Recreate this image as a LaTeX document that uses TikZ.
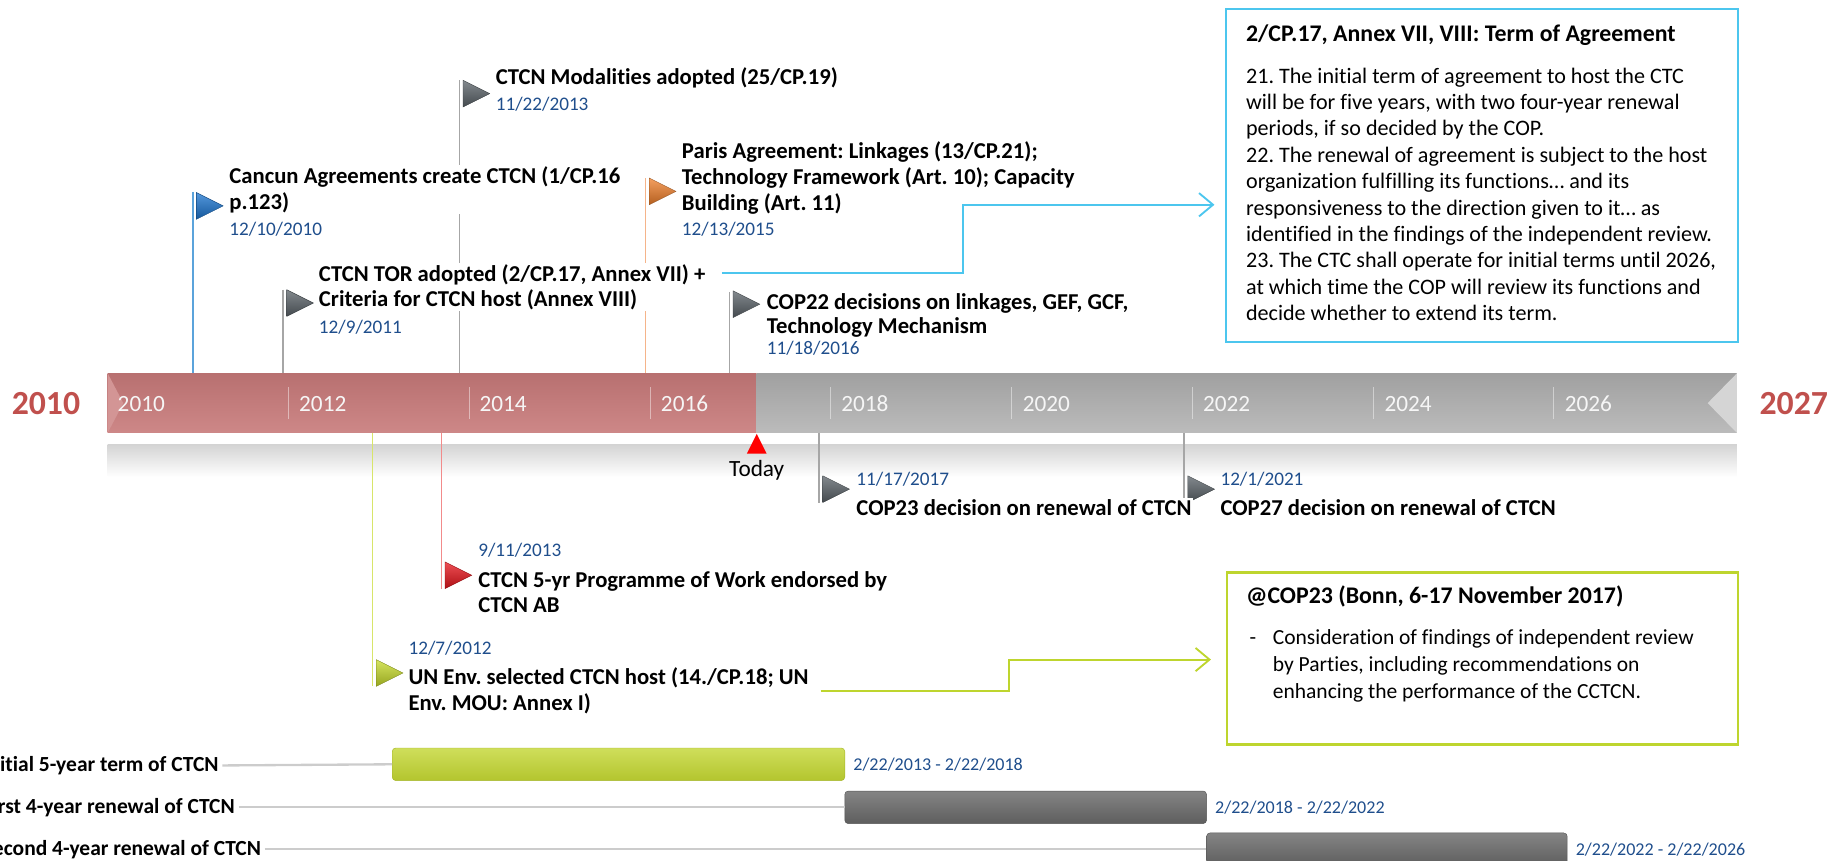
\documentclass[tikz,border=0pt]{standalone}
\usepackage{fontspec}
\setmainfont[Ligatures=NoCommon]{Carlito}
\usetikzlibrary{shapes.geometric, arrows.meta, positioning}

\definecolor{datecolor}{HTML}{1F4E8C}
\definecolor{bigyearcolor}{HTML}{C0504D}
\definecolor{redbar}{HTML}{C87A7A}
\definecolor{graybar}{HTML}{B2B2B2}
\definecolor{cancuncolor}{HTML}{1B75D0}
\definecolor{cancunline}{HTML}{5BA3DB}
\definecolor{slatecolor}{HTML}{5A6268}
\definecolor{slateline}{HTML}{A6A6A6}
\definecolor{pariscolor}{HTML}{F07F2A}
\definecolor{parisline}{HTML}{F5B48A}
\definecolor{powcolor}{HTML}{E8141B}
\definecolor{powline}{HTML}{F28B8B}
\definecolor{unepcolor}{HTML}{C8DC2A}
\definecolor{unepline}{HTML}{D8E56A}
\definecolor{boxblue}{HTML}{4CC6EE}
\definecolor{boxgreen}{HTML}{BED52E}
\definecolor{termgreen}{HTML}{C3D632}
\definecolor{termdark}{HTML}{666666}

\begin{document}
\frenchspacing
\begin{tikzpicture}[x=1pt, y=-1pt,
    eventtext/.style={anchor=north west, align=left, inner sep=1pt, fill=white,
        font=\fontsize{19.5}{22}\selectfont\bfseries},
    eventdate/.style={anchor=north west, inner sep=1pt, text=datecolor,
        font=\fontsize{16.5}{20}\selectfont},
    evflag/.style={shape=isosceles triangle, isosceles triangle stretches,
        minimum width=23pt, minimum height=23pt, inner sep=0pt, anchor=west,
        draw=#1!60!black, line width=0.3pt, top color=#1!75!white, bottom color=#1!75!black},
    flagline/.style={line width=1.3pt, draw=#1},
    yearlabel/.style={anchor=west, inner sep=0pt, text=white!93!gray,
        font=\fontsize{20}{24}\selectfont},
    bigyear/.style={inner sep=0pt, text=bigyearcolor, font=\fontsize{29}{34}\selectfont\bfseries},
    infobox/.style={draw=#1, line width=2pt, anchor=north west, inner sep=0pt},
    boxtitle/.style={anchor=north west, inner sep=0pt, font=\fontsize{20.5}{24}\selectfont\bfseries},
    boxbody/.style={anchor=north west, align=left, inner sep=0pt},
    linkarrow/.style={line width=1.6pt, draw=#1, -{Straight Barb[length=12pt, width=20pt]}},
    rowlabel/.style={anchor=west, inner sep=0pt, font=\fontsize{18.5}{22}\selectfont\bfseries},
    rowline/.style={line width=2pt, draw=black!20},
    termbar/.style={rectangle, rounded corners=3pt, minimum height=28pt, inner sep=0pt,
        anchor=west, draw=#1!85!black, top color=#1!80!white, bottom color=#1!92!black},
    termdate/.style={inner sep=0pt, text=datecolor, font=\fontsize{15.5}{18}\selectfont}
]

\useasboundingbox (0,0) rectangle (1574,740);
\clip (0,0) rectangle (1574,740);

% timeline
\shade[top color=redbar!92!black, bottom color=redbar!90!white] (92.6,321) rectangle (650.5,372);
\shade[top color=graybar!90!black, bottom color=graybar!88!white] (650.5,321) rectangle (1493,372);
\fill[redbar!80!white] (92.6,321) -- (106,346.5) -- (92.6,372) -- cycle;
\fill[graybar!55!white] (1493,321) -- (1468,346.5) -- (1493,372) -- cycle;
\shade[top color=black!17, bottom color=white] (92.6,382) rectangle (1493,410);

\foreach \x in {248,403.4,558.8,714.2,869.6,1025,1180.4,1335.8}
    \draw[white, opacity=0.45, line width=0.8pt] (\x,333) -- (\x,360);
\foreach \x/\yr in {101/2010,257/2012,412/2014,568/2016,723/2018,879/2020,1034/2022,1190/2024,1345/2026}
    \node[yearlabel] at (\x,347) {\yr};

\node[bigyear] (startyear) at (39.5,347) {2010};
\node[bigyear] (endyear) at (1542,347) {2027};

\fill[red] (650.5,373) -- (642,390) -- (659,390) -- cycle;
\node[inner sep=0pt, font=\fontsize{20}{24}\selectfont] (today) at (650.5,404) {Today};

% flag lines
\draw[flagline=cancunline] (165.7,165) -- (165.7,321);
\draw[flagline=slateline] (243.3,249) -- (243.3,321);
\draw[flagline=slateline] (394.9,69) -- (394.9,321);
\draw[flagline=parisline] (554.9,153) -- (554.9,321);
\draw[flagline=slateline] (627,251) -- (627,321);
\draw[flagline=slateline] (704.1,372) -- (704.1,432);
\draw[flagline=slateline] (1017.9,372) -- (1017.9,432);
\draw[flagline=powline] (379.4,372) -- (379.4,506);
\draw[flagline=unepline] (320.3,372) -- (320.3,590);

% flags
\node[evflag=cancuncolor] (fcancun) at (168.7,177) {};
\node[evflag=slatecolor] (ftor) at (246.3,260.5) {};
\node[evflag=slatecolor] (fmodal) at (397.9,80.5) {};
\node[evflag=pariscolor] (fparis) at (557.9,164.5) {};
\node[evflag=slatecolor] (fcop22) at (630,261.5) {};
\node[evflag=slatecolor] (fcop23) at (707.1,420.5) {};
\node[evflag=slatecolor] (fcop27) at (1020.9,420.5) {};
\node[evflag=powcolor] (fpow) at (382.4,494.5) {};
\node[evflag=unepcolor] (funep) at (323.3,578.5) {};

% events above the bar
\node[eventtext] (modal) at (425,57) {CTCN Modalities adopted (25/CP.19)};
\node[eventdate] (modaldate) at (425,82) {11/22/2013};

\node[eventtext] (cancun) at (196,142) {Cancun Agreements create CTCN (1/CP.16\\p.123)};
\node[eventdate] (cancundate) at (196,190) {12/10/2010};

\node[eventtext] (paris) at (585,121) {Paris Agreement: Linkages (13/CP.21);\\Technology Framework (Art. 10); Capacity\\Building (Art. 11)};
\node[eventdate] (parisdate) at (585,190) {12/13/2015};

\node[eventtext] (tor) at (273,226) {CTCN TOR adopted (2/CP.17, Annex VII) +\\Criteria for CTCN host (Annex VIII)};
\node[eventdate] (tordate) at (273,274) {12/9/2011};

\node[eventtext, font=\fontsize{19.5}{20.5}\selectfont\bfseries] (cop22) at (658,251) {COP22 decisions on linkages, GEF, GCF,\\Technology Mechanism};
\node[eventdate] (cop22date) at (658,292) {11/18/2016};

% events below the bar
\node[eventdate] (cop23date) at (735,405) {11/17/2017};
\node[eventtext] (cop23) at (735,428) {COP23 decision on renewal of CTCN};

\node[eventdate] (cop27date) at (1048,405) {12/1/2021};
\node[eventtext] (cop27) at (1048,428) {COP27 decision on renewal of CTCN};

\node[eventdate] (powdate) at (410,466) {9/11/2013};
\node[eventtext] (pow) at (410,490) {CTCN 5-yr Programme of Work endorsed by\\CTCN AB};

\node[eventdate] (unepdate) at (350,550) {12/7/2012};
\node[eventtext] (unep) at (350,573) {UN Env. selected CTCN host (14./CP.18; UN\\Env. MOU: Annex I)};

% boxes
\node[infobox=boxblue, minimum width=440pt, minimum height=286pt] (termbox) at (1053,7) {};
\node[boxtitle] (termtitle) at ([shift={(18,14)}]termbox.north west) {2/CP.17, Annex VII, VIII: Term of Agreement};
\node[boxbody, font=\fontsize{19}{22.7}\selectfont] (termtext) at ([shift={(18,51)}]termbox.north west)
    {21. The initial term of agreement to host the CTC\\
     will be for five years, with two four-year renewal\\
     periods, if so decided by the COP.\\
     22. The renewal of agreement is subject to the host\\
     organization fulfilling its functions… and its\\
     responsiveness to the direction given to it… as\\
     identified in the findings of the independent review.\\
     23. The CTC shall operate for initial terms until 2026,\\
     at which time the COP will review its functions and\\
     decide whether to extend its term.};

\node[infobox=boxgreen, minimum width=439pt, minimum height=148pt] (copbox) at (1054,491) {};
\node[boxtitle] (coptitle) at ([shift={(17,12)}]copbox.north west) {@COP23 (Bonn, 6-17 November 2017)};
\node[boxbody, font=\fontsize{18.5}{23}\selectfont] (copdash) at ([shift={(20,50)}]copbox.north west) {\vphantom{d}-};
\node[boxbody, font=\fontsize{18.5}{23}\selectfont] (coptext) at ([shift={(40,50)}]copbox.north west)
    {Consideration of findings of independent review\\
     by Parties, including recommendations on\\
     enhancing the performance of the CCTCN.};

% links
\draw[linkarrow=boxblue, shorten >=9pt] ([shift={(13,9)}]tor.north east) -| (828,176) -- (termbox.west |- 0,176);
\draw[linkarrow=boxgreen, shorten >=13pt] ([xshift=9pt]unep.east) -| (867,567) -- (copbox.west |- 0,567);

% terms
\node[rowlabel] (initlabel) at (-15,658) {Initial 5-year term of CTCN};
\node[rowlabel] (firstlabel) at (-15,694) {First 4-year renewal of CTCN};
\node[rowlabel] (secondlabel) at (-15,730) {Second 4-year renewal of CTCN};

\node[termbar=termgreen, minimum width=389pt] (initbar) at (337,657) {};
\node[termbar=termdark, minimum width=311pt] (firstbar) at (726,694) {};
\node[termbar=termdark, minimum width=310pt] (secondbar) at (1037,730) {};

\draw[rowline] ([xshift=3pt]initlabel.east) -- (initbar.west);
\draw[rowline] ([xshift=3pt]firstlabel.east) -- (firstbar.west);
\draw[rowline] ([xshift=3pt]secondlabel.east) -- (secondbar.west);

\node[termdate, right=7pt of initbar] (initdate) {2/22/2013 - 2/22/2018};
\node[termdate, right=7pt of firstbar] (firstdate) {2/22/2018 - 2/22/2022};
\node[termdate, right=7pt of secondbar] (seconddate) {2/22/2022 - 2/22/2026};

\end{tikzpicture}
\end{document}
